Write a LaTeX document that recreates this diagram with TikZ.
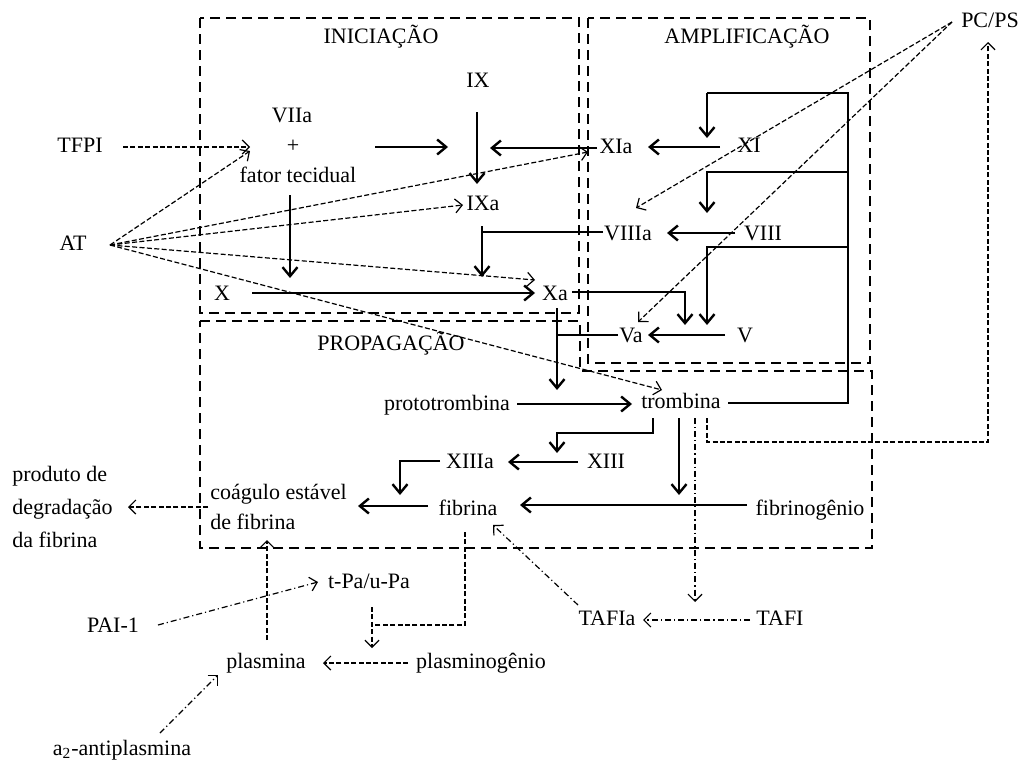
\documentclass[tikz,border=0pt]{standalone}
\usepackage{fontspec}
\setmainfont{Liberation Serif}
\usetikzlibrary{arrows.meta}

\begin{document}
\begin{tikzpicture}[x=0.5pt,y=-0.5pt,
  lbl/.style={inner sep=0pt, font=\fontsize{11}{13}\selectfont, text height=7pt, text depth=2pt},
  mlbl/.style={inner sep=0pt, align=left, anchor=west},
  region/.style={line width=1.4pt, dash pattern=on 5pt off 3pt},
  flowline/.style={line width=1.25pt},
  flow/.style={flowline, -{Straight Barb[length=4.5pt,width=7.5pt,line width=1.2pt]}},
  inhibline/.style={line width=0.6pt, dash pattern=on 2.5pt off 1.2pt},
  inhib/.style={inhibline, -{Straight Barb[length=3.5pt,width=7pt,line width=0.6pt]}},
  lysis/.style={line width=0.6pt, dash pattern=on 3pt off 1.5pt on 0.6pt off 1.5pt,
                -{Straight Barb[length=3.5pt,width=7pt,line width=0.6pt]}}]

\useasboundingbox (0,0) rectangle (1023,760);

% ---------- phase regions ----------
\draw[region] (200,18) rectangle (579,313);
\draw[region] (588,18) rectangle (870,363);
\draw[region] (200,321) -- (580,321) -- (580,371) -- (872,371) -- (872,548) -- (200,548) -- cycle;

% ---------- labels ----------
\node[lbl] (ini)   at (381,38)  {INICIAÇÃO};
\node[lbl] (amp)   at (747,38)  {AMPLIFICAÇÃO};
\node[lbl] (prop)  at (391,345) {PROPAGAÇÃO};
\node[lbl] (IX)    at (478,82)  {IX};
\node[lbl] (VIIa)  at (292,117) {VIIa};
\node[lbl] (plus)  at (293,147) {+};
\node[lbl] (FT)    at (298,177) {fator tecidual};
\node[lbl] (TFPI)  at (80,147)  {TFPI};
\node[lbl] (AT)    at (73,245)  {AT};
\node[lbl] (X)     at (222,295) {X};
\node[lbl] (Xa)    at (555,295) {Xa};
\node[lbl] (XIa)   at (616,148) {XIa};
\node[lbl] (IXa)   at (483,205) {IXa};
\node[lbl] (VIIIa) at (628,235) {VIIIa};
\node[lbl] (XI)    at (749,147) {XI};
\node[lbl] (VIII)  at (763,235) {VIII};
\node[lbl] (V)     at (745,337) {V};
\node[lbl] (Va)    at (631,337) {Va};
\node[lbl] (PCPS)  at (990,22)  {PC/PS};
\node[lbl] (protro) at (447,405) {prototrombina};
\node[lbl] (trom)  at (681,403) {trombina};
\node[lbl] (XIIIa) at (470,463) {XIIIa};
\node[lbl] (XIII)  at (606,463) {XIII};
\node[mlbl, font=\fontsize{11}{15}\selectfont] (coag) at (210,507) {coágulo estável\\de fibrina};
\node[mlbl, font=\fontsize{11}{16.5}\selectfont] (prod) at (12,507) {produto de\\degradação\\da fibrina};
\node[lbl] (fib)   at (468,510) {fibrina};
\node[lbl] (fibgen) at (810,510) {fibrinogênio};
\node[lbl] (tPa)   at (369,583) {t-Pa/u-Pa};
\node[lbl] (PAI)   at (113,627) {PAI-1};
\node[lbl] (plas)  at (266,663) {plasmina};
\node[lbl] (plasgen) at (481,663) {plasminogênio};
\node[lbl] (TAFIa) at (607,620) {TAFIa};
\node[lbl] (TAFI)  at (780,620) {TAFI};
\node[lbl] (a2)    at (122,750) {a\textsubscript{2}-antiplasmina};

% ---------- connector end points ----------
\coordinate (viiOut) at (375,147);  \coordinate (ixIn)   at (448,147);
\coordinate (ixTop)  at (477,112);  \coordinate (ixBot)  at (477,184);
\coordinate (xiaL)   at (597,148);  \coordinate (xiaTip) at (490,148);
\coordinate (xiR)    at (720,147);  \coordinate (xiTip)  at (648,147);
\coordinate (viiiR)  at (735,233);  \coordinate (viiiTip) at (667,233);
\coordinate (viiiaL) at (603,232);  \coordinate (ixaC)   at (482,232);
\coordinate (ixaTop) at (482,226);  \coordinate (ixaTip) at (482,277);
\coordinate (xR)     at (252,293);  \coordinate (xTip)   at (535,293);
\coordinate (ftBot)  at (290,195);  \coordinate (ftTip)  at (290,278);
\coordinate (xaR)    at (572,292);  \coordinate (xaC)    at (685,292);
\coordinate (xaTip)  at (685,325);
\coordinate (vR)     at (725,335);  \coordinate (vTip)   at (648,335);
\coordinate (vaL)    at (618,335);  \coordinate (vaC)    at (557,335);
\coordinate (ptTop)  at (557,308);  \coordinate (ptTip)  at (557,390);
\coordinate (protR)  at (517,404);  \coordinate (tromIn) at (632,404);
\coordinate (trR)    at (728,403);  \coordinate (busB)   at (848,403);
\coordinate (busT)   at (848,93);
\coordinate (b1)     at (707,93);   \coordinate (b1Tip)  at (707,138);
\coordinate (b2R)    at (848,172);  \coordinate (b2)     at (707,172);
\coordinate (b2Tip)  at (707,213);
\coordinate (b3R)    at (848,247);  \coordinate (b3)     at (707,247);
\coordinate (b3Tip)  at (707,325);
\coordinate (trA)    at (653,418);  \coordinate (trB)    at (653,433);
\coordinate (trC)    at (557,433);  \coordinate (trTip)  at (557,453);
\coordinate (xiiiL)  at (578,462);  \coordinate (xiiiTip) at (508,462);
\coordinate (xiiiaL) at (440,461);  \coordinate (xiiiaC) at (400,461);
\coordinate (xiiiaTip) at (400,495);
\coordinate (fibL)   at (428,506);  \coordinate (fibTip) at (358,506);
\coordinate (fgL)    at (747,505);  \coordinate (fgTip)  at (520,505);
\coordinate (trD)    at (679,418);  \coordinate (trDTip) at (679,495);
% inhibitors and fibrinolysis
\coordinate (tfpiR)  at (123,147);  \coordinate (tfpiTip) at (250,147);
\coordinate (atR)    at (110,245);
\coordinate (atT1)   at (250,151);  \coordinate (atT2)   at (588,152);
\coordinate (atT3)   at (463,205);  \coordinate (atT4)   at (535,280);
\coordinate (atT5)   at (662,390);
\coordinate (pcL)    at (952,22);
\coordinate (pcT1)   at (636,208);  \coordinate (pcT2)   at (638,322);
\coordinate (tpA)    at (707,418);  \coordinate (tpB)    at (707,442);
\coordinate (tpC)    at (988,442);  \coordinate (tpTip)  at (988,42);
\coordinate (coagL)  at (208,507);  \coordinate (prodTip) at (128,507);
\coordinate (plasTop) at (267,640); \coordinate (plasTip) at (267,540);
\coordinate (fbA)    at (465,532);  \coordinate (fbB)    at (465,625);
\coordinate (fbC)    at (372,625);  \coordinate (fbTop)  at (372,607);
\coordinate (fbTip)  at (372,648);
\coordinate (pgL)    at (408,663);  \coordinate (pgTip)  at (323,663);
\coordinate (tfA)    at (695,418);  \coordinate (tfTip)  at (695,602);
\coordinate (tafiL)  at (750,620);  \coordinate (tafiTip) at (643,620);
\coordinate (tafiaL) at (578,605);  \coordinate (tafiaTip) at (493,525);
\coordinate (paiR)   at (158,625);  \coordinate (paiTip) at (318,582);
\coordinate (a2R)    at (160,733);  \coordinate (a2Tip)  at (218,675);

% ---------- coagulation cascade ----------
\draw[flow] (viiOut) -- (ixIn);
\draw[flow] (ixTop) -- (ixBot);
\draw[flow] (xiaL) -- (xiaTip);
\draw[flow] (xiR) -- (xiTip);
\draw[flow] (viiiR) -- (viiiTip);
\draw[flowline] (viiiaL) -- (ixaC);
\draw[flow] (ixaTop) -- (ixaTip);
\draw[flow] (xR) -- (xTip);
\draw[flow] (ftBot) -- (ftTip);
\draw[flow] (xaR) -- (xaC) -- (xaTip);
\draw[flow] (vR) -- (vTip);
\draw[flowline] (vaL) -- (vaC);
\draw[flow] (ptTop) -- (ptTip);
\draw[flow] (protR) -- (tromIn);
% thrombin feedback
\draw[flowline] (trR) -- (busB) -- (busT) -- (b1);
\draw[flow] (b1) -- (b1Tip);
\draw[flow] (b2R) -- (b2) -- (b2Tip);
\draw[flow] (b3R) -- (b3) -- (b3Tip);
\draw[flow] (trA) -- (trB) -- (trC) -- (trTip);
\draw[flow] (xiiiL) -- (xiiiTip);
\draw[flow] (xiiiaL) -- (xiiiaC) -- (xiiiaTip);
\draw[flow] (fibL) -- (fibTip);
\draw[flow] (fgL) -- (fgTip);
\draw[flow] (trD) -- (trDTip);

% ---------- inhibitors ----------
\draw[inhib] (tfpiR) -- (tfpiTip);
\foreach \t in {atT1,atT2,atT3,atT4,atT5} \draw[inhib] (atR) -- (\t);
\draw[inhib] (pcL) -- (pcT1);
\draw[inhib] (pcL) -- (pcT2);
\draw[inhib] (tpA) -- (tpB) -- (tpC) -- (tpTip);

% ---------- fibrinolysis ----------
\draw[inhib] (coagL) -- (prodTip);
\draw[inhib] (plasTop) -- (plasTip);
\draw[inhibline] (fbA) -- (fbB) -- (fbC);
\draw[inhib] (fbTop) -- (fbTip);
\draw[inhib] (pgL) -- (pgTip);
\draw[lysis] (tfA) -- (tfTip);
\draw[lysis] (tafiL) -- (tafiTip);
\draw[lysis] (tafiaL) -- (tafiaTip);
\draw[lysis] (paiR) -- (paiTip);
\draw[lysis] (a2R) -- (a2Tip);
\end{tikzpicture}
\end{document}
